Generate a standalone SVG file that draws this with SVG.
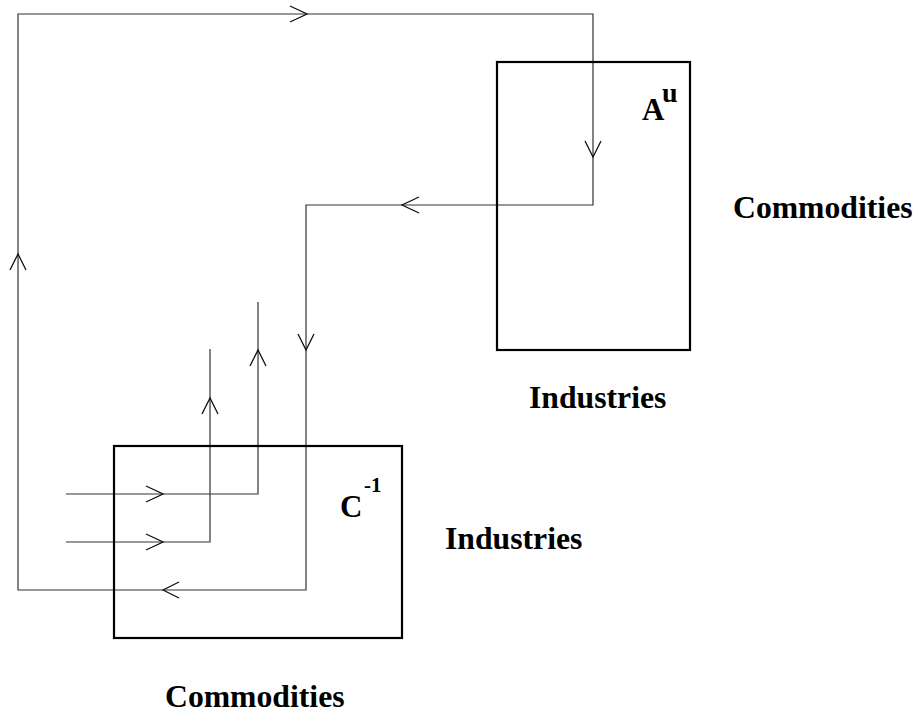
<svg xmlns="http://www.w3.org/2000/svg" width="921" height="720" viewBox="0 0 921 720">
<style>
.box{fill:none;stroke:#000;stroke-width:2.2}
.ln{fill:none;stroke:#333;stroke-width:1.2}
.ah{fill:none;stroke:#111;stroke-width:1.3}
.lbl{font-family:"Liberation Serif","Times New Roman",serif;font-weight:bold;font-size:31.7px;fill:#000}
.sup{font-family:"Liberation Serif","Times New Roman",serif;font-weight:bold;fill:#000}
</style>
<rect width="921" height="720" fill="#fff"/>
<g id="connectors">
<path class="ln" d="M18,14 H593 V205 H306 V590 H18 Z"/>
<path class="ln" d="M66,494 H258 V302"/>
<path class="ln" d="M66,542 H210 V349"/>
<polyline class="ah" points="290,6 307,14 290,22"/>
<polyline class="ah" points="585,141 593,157 601,141"/>
<polyline class="ah" points="419,197 402,205 419,213"/>
<polyline class="ah" points="298,334 306,350 314,334"/>
<polyline class="ah" points="250,366 258,350 266,366"/>
<polyline class="ah" points="202,414 210,398 218,414"/>
<polyline class="ah" points="146,486 163,494 146,502"/>
<polyline class="ah" points="146,534 163,542 146,550"/>
<polyline class="ah" points="179,582 163,590 179,598"/>
<polyline class="ah" points="10,270 18,254 26,270"/>
</g>
<g id="matrix-A">
<rect class="box" x="497" y="62" width="193" height="288"/>
<text class="sup" x="642" y="120" font-size="31">A</text>
<text class="sup" x="662" y="102" font-size="28">u</text>
<text class="lbl" x="733" y="218">Commodities</text>
<text class="lbl" x="529" y="408">Industries</text>
</g>
<g id="matrix-C">
<rect class="box" x="114" y="446" width="288" height="192"/>
<text class="sup" x="340" y="517" font-size="31">C</text>
<text class="sup" x="364" y="492" font-size="21">-1</text>
<text class="lbl" x="445" y="549">Industries</text>
<text class="lbl" x="165" y="707">Commodities</text>
</g>
</svg>
